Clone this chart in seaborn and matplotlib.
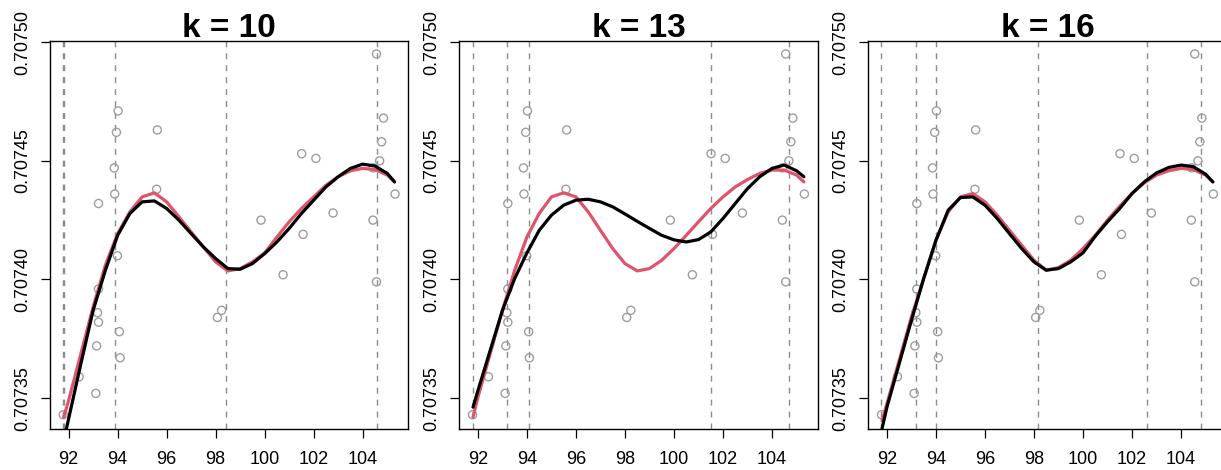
import matplotlib
matplotlib.use("Agg")
import matplotlib.pyplot as plt
import seaborn as sns
import pandas as pd

# ---- data -------------------------------------------------------------
age = [91.78, 92.43, 93.11, 93.22, 93.22, 93.18, 93.22, 93.14, 93.86, 93.88,
       93.95, 94.02, 93.99, 94.07, 94.10, 95.62, 95.59, 98.07, 98.24, 99.85,
       100.75, 101.51, 101.57, 102.09, 102.79, 104.42, 104.56, 104.56, 104.69,
       104.77, 104.85, 105.32, 104.43]
strontium = [0.707343, 0.707359, 0.707352, 0.707432, 0.707396, 0.707386,
             0.707382, 0.707372, 0.707447, 0.707436, 0.707462, 0.707471,
             0.707410, 0.707378, 0.707367, 0.707463, 0.707438, 0.707384,
             0.707387, 0.707425, 0.707402, 0.707453, 0.707419, 0.707451,
             0.707428, 0.707425, 0.707495, 0.707399, 0.707450, 0.707458,
             0.707468, 0.707436, 0.707447]

grid_age = [91.8, 92.0, 92.5, 93.0, 93.5, 94.0, 94.5, 95.0, 95.5, 96.0, 96.5,
            97.0, 97.5, 98.0, 98.5, 99.0, 99.5, 100.0, 100.5, 101.0, 101.5,
            102.0, 102.5, 103.0, 103.5, 104.0, 104.5, 105.0, 105.3]

titles = ["k = 10", "k = 13", "k = 16"]

red_k10 = [0.7073420, 0.7073490, 0.7073687, 0.7073884, 0.7074060, 0.7074193,
           0.7074285, 0.7074348, 0.7074365, 0.7074327, 0.7074264, 0.7074200,
           0.7074137, 0.7074074, 0.7074036, 0.7074046, 0.7074074, 0.7074112,
           0.7074179, 0.7074243, 0.7074299, 0.7074348, 0.7074397, 0.7074433,
           0.7074458, 0.7074468, 0.7074463, 0.7074440, 0.7074411]
black_k10 = [0.7073321, 0.7073413, 0.7073645, 0.7073870, 0.7074039, 0.7074186,
             0.7074278, 0.7074327, 0.7074331, 0.7074299, 0.7074250, 0.7074193,
             0.7074137, 0.7074088, 0.7074046, 0.7074043, 0.7074067, 0.7074109,
             0.7074158, 0.7074215, 0.7074278, 0.7074334, 0.7074390, 0.7074433,
             0.7074468, 0.7074486, 0.7074478, 0.7074447, 0.7074411]

red_k13 = [0.7073420, 0.7073504, 0.7073687, 0.7073870, 0.7074039, 0.7074179,
           0.7074278, 0.7074348, 0.7074365, 0.7074348, 0.7074285, 0.7074207,
           0.7074130, 0.7074067, 0.7074036, 0.7074046, 0.7074081, 0.7074130,
           0.7074186, 0.7074243, 0.7074299, 0.7074348, 0.7074390, 0.7074421,
           0.7074447, 0.7074461, 0.7074461, 0.7074440, 0.7074411]
black_k13 = [0.7073462, 0.7073532, 0.7073701, 0.7073870, 0.7074004, 0.7074112,
             0.7074207, 0.7074271, 0.7074313, 0.7074334, 0.7074338, 0.7074327,
             0.7074306, 0.7074276, 0.7074245, 0.7074215, 0.7074186, 0.7074167,
             0.7074158, 0.7074168, 0.7074200, 0.7074257, 0.7074320, 0.7074383,
             0.7074433, 0.7074468, 0.7074482, 0.7074458, 0.7074433]

red_k16 = [0.7073406, 0.7073476, 0.7073659, 0.7073842, 0.7074004, 0.7074165,
           0.7074285, 0.7074348, 0.7074362, 0.7074327, 0.7074271, 0.7074207,
           0.7074144, 0.7074081, 0.7074039, 0.7074050, 0.7074081, 0.7074130,
           0.7074186, 0.7074250, 0.7074309, 0.7074362, 0.7074407, 0.7074440,
           0.7074458, 0.7074468, 0.7074463, 0.7074440, 0.7074411]
black_k16 = [0.7073371, 0.7073462, 0.7073645, 0.7073828, 0.7074004, 0.7074165,
             0.7074292, 0.7074345, 0.7074348, 0.7074313, 0.7074257, 0.7074193,
             0.7074130, 0.7074074, 0.7074039, 0.7074046, 0.7074074, 0.7074112,
             0.7074182, 0.7074243, 0.7074299, 0.7074362, 0.7074411, 0.7074449,
             0.7074472, 0.7074482, 0.7074475, 0.7074444, 0.7074411]

knots_k10 = [91.78, 91.82, 93.88, 98.41, 104.57]
knots_k13 = [91.80, 93.20, 94.09, 101.53, 104.68]
knots_k16 = [91.77, 93.20, 93.99, 98.16, 102.61, 104.80]

x_ticks = [92, 94, 96, 98, 100, 102, 104]
y_ticks = [0.70735, 0.70740, 0.70745, 0.70750]
y_tick_labels = ["0.70735", "0.70740", "0.70745", "0.70750"]

# ---- style ------------------------------------------------------------
sns.set_style("white")
plt.rcParams["font.family"] = ["Liberation Sans", "DejaVu Sans"]

RED = "#DF536B"
PT_GREY = "#9E9E9E"
LINE_GREY = "#8C8C8C"

W, H = 1221, 470
fig = plt.figure(figsize=(W / 100, H / 100), dpi=100)

panel_left = [50.0, 459.3, 868.3]
panel_w = 358.3
panel_top = 40.7
panel_bottom = 429.0

points = pd.DataFrame({"age": age, "strontium": strontium})
curves = [(red_k10, black_k10, knots_k10),
          (red_k13, black_k13, knots_k13),
          (red_k16, black_k16, knots_k16)]

for i, (title, (red, black, knots)) in enumerate(zip(titles, curves)):
    ax = fig.add_axes([panel_left[i] / W, (H - panel_bottom) / H,
                       panel_w / W, (panel_bottom - panel_top) / H])
    sns.scatterplot(data=points, x="age", y="strontium", ax=ax,
                    marker="o", s=34, facecolor="none", edgecolor=PT_GREY,
                    linewidth=1.0, zorder=2)
    for k in knots:
        ax.axvline(k, color=LINE_GREY, lw=1.0, dashes=(4.3, 4.3), zorder=1)
    cdf = pd.DataFrame({"age": grid_age, "red": red, "black": black})
    sns.lineplot(data=cdf, x="age", y="red", ax=ax, color=RED, lw=2.3,
                 estimator=None, sort=False, zorder=3,
                 solid_capstyle="round", solid_joinstyle="round")
    sns.lineplot(data=cdf, x="age", y="black", ax=ax, color="black", lw=2.3,
                 estimator=None, sort=False, zorder=4,
                 solid_capstyle="round", solid_joinstyle="round")

    ax.set_xlim(91.24, 105.86)
    ax.set_ylim(0.707337, 0.7075006)
    ax.set_xticks(x_ticks)
    ax.set_xticklabels([str(t) for t in x_ticks])
    ax.set_yticks(y_ticks)
    ax.set_yticklabels(y_tick_labels, rotation=90, va="center")
    ax.set_xlabel("")
    ax.set_ylabel("")
    ax.tick_params(axis="both", which="major", direction="out", length=6.5,
                   width=0.9, color="black", labelsize=13,
                   labelcolor="black", bottom=True, left=True)
    ax.tick_params(axis="x", pad=9.0)
    ax.tick_params(axis="y", pad=7.0)
    for sp in ax.spines.values():
        sp.set_visible(True)
        sp.set_color("black")
        sp.set_linewidth(1.0)
    ax.set_title(title, fontsize=24, fontweight="bold", pad=3, color="black")

fig.savefig("out.png", dpi=100)
